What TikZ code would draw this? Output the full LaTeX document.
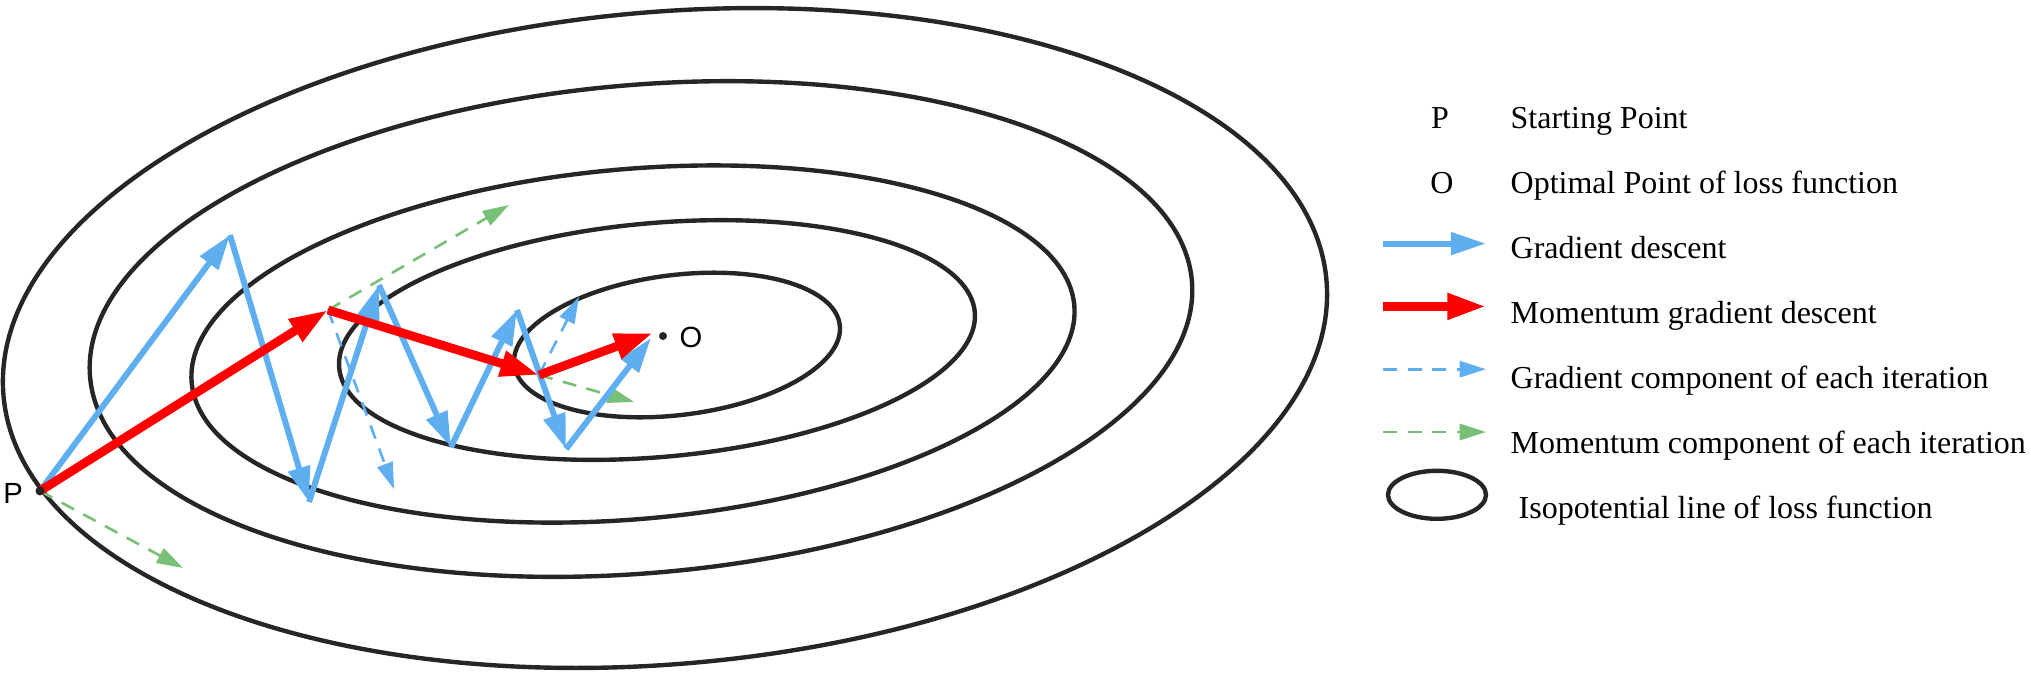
\documentclass[tikz,border=0pt]{standalone}
\usepackage{fontspec}
\setmainfont{Liberation Serif}
\newfontfamily\pointfont{Liberation Sans}
\usetikzlibrary{arrows.meta,positioning,calc}
\def\legendstep{0.628cm}
\def\textstep{0.65cm}
\def\legendarrowlength{1.03cm}

\definecolor{gdblue}{RGB}{95,175,240}
\definecolor{mgdred}{RGB}{255,0,0}
\definecolor{momgreen}{RGB}{120,192,120}

\tikzset{
  isoline/.style={line width=1.25pt, draw=black!85},
  gdstep/.style={line width=1.7pt, draw=gdblue, -{Triangle[length=10pt,width=6.2pt]}},
  mgdstep/.style={line width=2.5pt, draw=mgdred, -{Triangle[length=11pt,width=7pt]}},
  gradcomp/.style={line width=0.75pt, draw=gdblue, dash pattern=on 4pt off 3pt, -{Triangle[length=7.5pt,width=4.6pt]}},
  momcomp/.style={line width=0.75pt, draw=momgreen, dash pattern=on 4pt off 3pt, -{Triangle[length=7.5pt,width=4.6pt]}},
  legendtext/.style={anchor=base west, inner sep=0, font=\fontsize{9.1}{11}\selectfont},
  pointlabel/.style={inner sep=0, font=\pointfont\fontsize{8.3}{10}\selectfont},
}

\begin{document}
\begin{tikzpicture}
  \useasboundingbox (0,0) rectangle (20.31,6.74);

  % isopotential lines
  \coordinate (E1) at (6.65,3.36);
  \coordinate (E2) at (6.41,3.45);
  \coordinate (E3) at (6.33,3.30);
  \coordinate (E4) at (6.57,3.34);
  \coordinate (E5) at (6.77,3.29);
  \draw[isoline, rotate around={5:(E1)}] (E1) ellipse [x radius=6.64, y radius=3.26];
  \draw[isoline, rotate around={5:(E2)}] (E2) ellipse [x radius=5.53, y radius=2.44];
  \draw[isoline, rotate around={5:(E3)}] (E3) ellipse [x radius=4.43, y radius=1.75];
  \draw[isoline, rotate around={5:(E4)}] (E4) ellipse [x radius=3.19, y radius=1.17];
  \draw[isoline, rotate around={7:(E5)}] (E5) ellipse [x radius=1.64, y radius=0.70];

  % start and optimum
  \coordinate (P) at (0.40,1.83);
  \coordinate (O) at (6.63,3.38);
  \node[pointlabel] (P-label) at (0.13,1.81) {P};
  \node[pointlabel] (O-label) at (6.91,3.37) {O};

  % gradient descent
  \coordinate (G1) at (2.30,4.39);
  \coordinate (G2) at (3.09,1.72);
  \coordinate (G3) at (3.79,3.89);
  \coordinate (G4) at (4.51,2.27);
  \coordinate (G5) at (5.17,3.64);
  \coordinate (G6) at (5.66,2.25);
  \coordinate (G7) at (6.51,3.36);

  % momentum gradient descent
  \coordinate (M1) at (3.28,3.64);
  \coordinate (M2) at (5.39,2.99);
  \coordinate (M3) at (6.53,3.41);

  % components of each iteration
  \coordinate (MC0) at (1.83,1.06);
  \coordinate (MC1) at (5.09,4.69);
  \coordinate (MC2) at (6.34,2.72);
  \coordinate (GC1) at (3.94,1.85);
  \coordinate (GC2) at (5.79,3.77);

  \draw[momcomp] (P) -- (MC0);
  \draw[momcomp] (M1) -- (MC1);
  \draw[momcomp] (M2) -- (MC2);
  \draw[gradcomp] (M1) -- (GC1);
  \draw[gradcomp] (M2) -- (GC2);

  \draw[gdstep] (P) -- (G1);
  \draw[gdstep] (G1) -- (G2);
  \draw[gdstep] (G2) -- (G3);
  \draw[gdstep] (G3) -- (G4);
  \draw[gdstep] (G4) -- (G5);
  \draw[gdstep] (G5) -- (G6);
  \draw[gdstep] (G6) -- (G7);

  \draw[mgdstep] (P) -- (M1);
  \draw[mgdstep] (M1) -- (M2);
  \draw[mgdstep] (M2) -- (M3);

  \fill[black!85] (P) circle (0.045);
  \fill[black!85] (O) circle (0.04);

  % legend
  \coordinate (LA0) at (13.83,5.56);
  \coordinate (LT0) at (15.10,5.46);

  \node[legendtext, anchor=base] (LP) at ($ (LT0) + (-0.70,0) $) {P};
  \node[legendtext] (LP-text) at (LT0) {Starting Point};
  \node[legendtext, anchor=base] (LO) at ($ (LT0) + (-0.68,-\textstep) $) {O};
  \node[legendtext] (LO-text) at ($ (LT0) - (0,\textstep) $) {Optimal Point of loss function};

  \coordinate (LA2S) at ($ (LA0) - (0,2*\legendstep) $);
  \coordinate (LA2E) at ($ (LA2S) + (\legendarrowlength,0) $);
  \coordinate (LA3S) at ($ (LA0) - (0,3*\legendstep) $);
  \coordinate (LA3E) at ($ (LA3S) + (\legendarrowlength,0) $);
  \coordinate (LA4S) at ($ (LA0) - (0,4*\legendstep) $);
  \coordinate (LA4E) at ($ (LA4S) + (\legendarrowlength,0) $);
  \coordinate (LA5S) at ($ (LA0) - (0,5*\legendstep) $);
  \coordinate (LA5E) at ($ (LA5S) + (\legendarrowlength,0) $);
  \coordinate (LA6) at ($ (LA0) + (0.54,-6*\legendstep) $);

  \draw[gdstep] (LA2S) -- (LA2E);
  \draw[mgdstep] (LA3S) -- (LA3E);
  \draw[gradcomp] (LA4S) -- (LA4E);
  \draw[momcomp] (LA5S) -- (LA5E);
  \draw[isoline] (LA6) ellipse [x radius=0.49, y radius=0.24];

  \node[legendtext] (LG-text) at ($ (LT0) - (0,2*\textstep) $) {Gradient descent};
  \node[legendtext] (LM-text) at ($ (LT0) - (0,3*\textstep) $) {Momentum gradient descent};
  \node[legendtext] (LGC-text) at ($ (LT0) - (0,4*\textstep) $) {Gradient component of each iteration};
  \node[legendtext] (LMC-text) at ($ (LT0) - (0,5*\textstep) $) {Momentum component of each iteration};
  \node[legendtext] (LI-text) at ($ (LT0) + (0.08,-6*\textstep) $) {Isopotential line of loss function};

\end{tikzpicture}
\end{document}
